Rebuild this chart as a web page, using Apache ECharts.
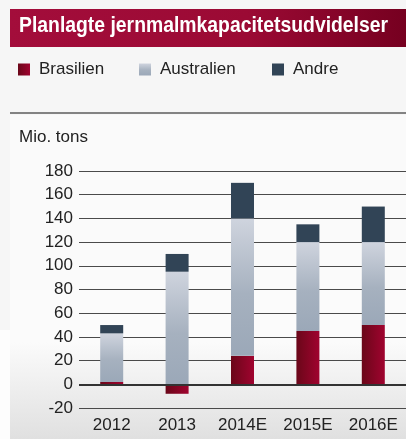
<!DOCTYPE html>
<html>
<head>
<meta charset="utf-8">
<script src="https://cdn.jsdelivr.net/npm/echarts@6/dist/echarts.min.js"></script>
<style>
  html, body { margin: 0; padding: 0; background: #f6f6f6; }
  #chart { width: 406px; height: 439px; }
</style>
</head>
<body>
<div id="chart"></div>
<script>
// data
var categories = ['2012', '2013', '2014E', '2015E', '2016E'];
var brasilien = [2, -8, 24, 45, 50];
var australien = [41, 95, 116, 75, 70];
var andre = [7, 15, 30, 15, 30];
var yTicks = { min: -20, max: 180, interval: 20 };

var font = '"Liberation Sans", Arial, sans-serif';

var redFill = new echarts.graphic.LinearGradient(0, 0, 1, 0, [
  { offset: 0, color: '#6a0719' },
  { offset: 1, color: '#a0032f' }
]);
var blueFill = new echarts.graphic.LinearGradient(0, 0, 0, 1, [
  { offset: 0, color: '#cfd4de' },
  { offset: 0.55, color: '#a6b1bf' },
  { offset: 1, color: '#9ba8b8' }
]);
var darkFill = '#314456';

var chart = echarts.init(document.getElementById('chart'));

function legendAt(x, name) {
  return {
    left: x, top: 61, padding: 0, data: [name],
    icon: 'rect', itemWidth: 12, itemHeight: 12,
    textStyle: { fontSize: 17, color: '#222', padding: [0, 0, 0, 4] }
  };
}

var option = {
  backgroundColor: '#f6f6f6',
  animation: false,
  textStyle: { fontFamily: font },
  graphic: [
    {
      type: 'rect', z: -10,
      shape: { x: 10, y: 290, width: 396, height: 149 },
      style: {
        fill: new echarts.graphic.LinearGradient(0, 0, 0, 1, [
          { offset: 0, color: '#fbfbfb' },
          { offset: 0.35, color: '#fbfbfb' },
          { offset: 1, color: '#e0e0e0' }
        ])
      }
    },
    {
      type: 'rect', z: -10,
      shape: { x: 0, y: 330, width: 10, height: 109 },
      style: { fill: '#fdfdfd' }
    },
    {
      type: 'rect', z: -10,
      shape: { x: 10, y: 115, width: 396, height: 175 },
      style: { fill: '#fafafa' }
    },
    {
      type: 'rect',
      shape: { x: 10, y: 9, width: 396, height: 38 },
      style: {
        fill: new echarts.graphic.LinearGradient(0, 0, 1, 0, [
          { offset: 0, color: '#a30d3b' },
          { offset: 0.6, color: '#9b0a34' },
          { offset: 1, color: '#760020' }
        ])
      }
    },
    {
      // title, squeezed a little to look like the condensed original
      type: 'text',
      x: 19, y: 15, scaleX: 0.88,
      style: {
        text: 'Planlagte jernmalmkapacitetsudvidelser',
        fill: '#ffffff',
        font: 'bold 22px ' + font,
        textVerticalAlign: 'top'
      }
    },
    {
      type: 'line',
      shape: { x1: 10, y1: 113, x2: 406, y2: 113 },
      style: { stroke: '#111', lineWidth: 1 }
    },
    {
      type: 'text',
      left: 19, top: 129,
      style: { text: 'Mio. tons', fill: '#222', font: '17px ' + font }
    }
  ],
  legend: [
    legendAt(18, 'Brasilien'),
    legendAt(139, 'Australien'),
    legendAt(272, 'Andre')
  ],
  grid: { left: 79, right: 0, top: 171, height: 237 },
  xAxis: {
    type: 'category',
    data: categories,
    axisLine: { show: false },
    axisTick: { show: false },
    axisLabel: { fontSize: 17, color: '#222', margin: 9 }
  },
  yAxis: {
    type: 'value',
    min: yTicks.min, max: yTicks.max, interval: yTicks.interval,
    axisLine: { show: false },
    axisTick: { show: false },
    axisLabel: { fontSize: 17, color: '#222', margin: 6 },
    splitLine: { lineStyle: { color: '#4a4a4a', width: 1 } }
  },
  series: [
    {
      name: 'Brasilien', type: 'bar', stack: 'total',
      barWidth: 23, data: brasilien,
      itemStyle: { color: redFill },
      markLine: {
        silent: true, symbol: 'none',
        label: { show: false },
        lineStyle: { color: '#333', width: 2, type: 'solid' },
        data: [{ yAxis: 0 }]
      }
    },
    {
      name: 'Australien', type: 'bar', stack: 'total',
      barWidth: 23, data: australien,
      itemStyle: { color: blueFill }
    },
    {
      name: 'Andre', type: 'bar', stack: 'total',
      barWidth: 23, data: andre,
      itemStyle: { color: darkFill }
    }
  ]
};

chart.setOption(option);
</script>
</body>
</html>
